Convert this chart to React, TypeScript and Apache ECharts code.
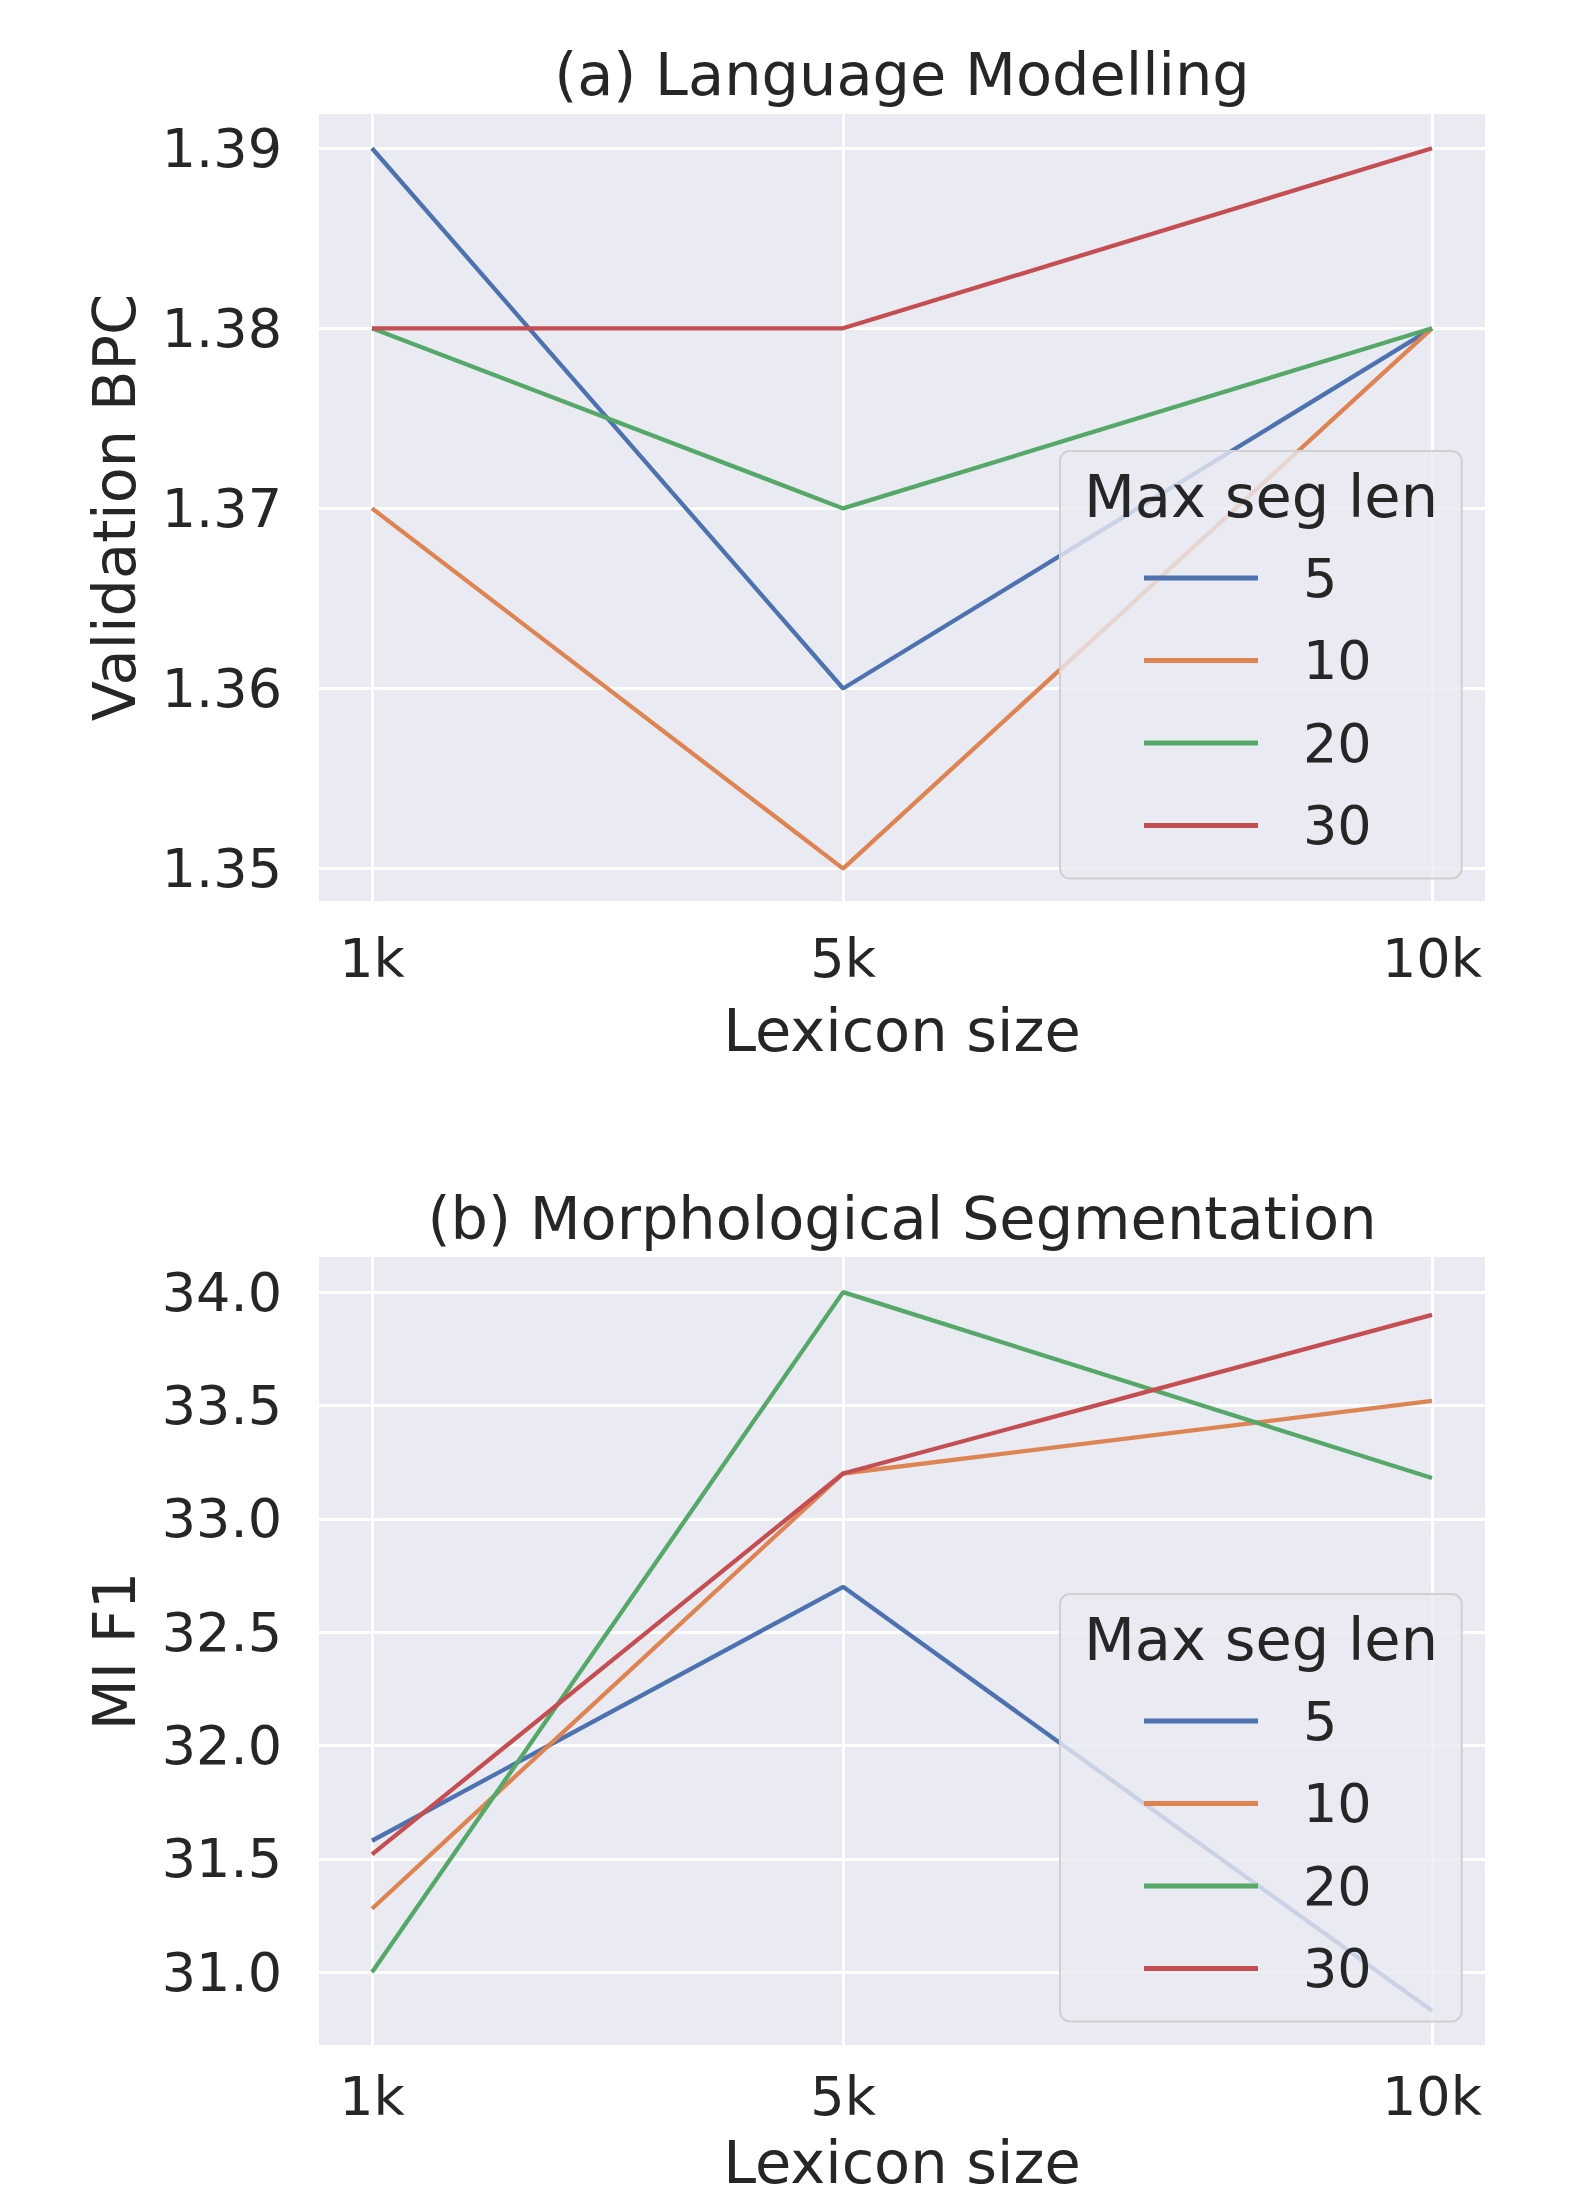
import React, { useEffect, useRef } from "react";
import * as echarts from "echarts";

// ---- data ----
const lexiconSizes = [1000, 5000, 10000];
const xTickLabels = ["1k", "5k", "10k"];
const segLens = ["5", "10", "20", "30"];
const colors = ["#4C72B0", "#DD8452", "#55A868", "#C44E52"];

// (a) Language Modelling - Validation BPC
const bpc5 = [1.39, 1.36, 1.38];
const bpc10 = [1.37, 1.35, 1.38];
const bpc20 = [1.38, 1.37, 1.38];
const bpc30 = [1.38, 1.38, 1.39];
const bpcTicks = [1.35, 1.36, 1.37, 1.38, 1.39];

// (b) Morphological Segmentation - MI F1
const f1_5 = [31.58, 32.7, 30.83];
const f1_10 = [31.28, 33.2, 33.52];
const f1_20 = [31.0, 34.0, 33.18];
const f1_30 = [31.52, 33.2, 33.9];
const f1Ticks = [31.0, 31.5, 32.0, 32.5, 33.0, 33.5, 34.0];

const FONT = "DejaVu Sans";
const TEXT = "#262626";

export default function App() {
  const ref = useRef<HTMLDivElement>(null);
  useEffect(() => {
    if (!ref.current) return;
    const chart = echarts.init(ref.current, undefined, { renderer: "svg" });
    const zip = (ys: number[]) => lexiconSizes.map((x, i) => [x, ys[i]]);
    const panelA = [bpc5, bpc10, bpc20, bpc30];
    const panelB = [f1_5, f1_10, f1_20, f1_30];

    const grids = [
      { left: 319, width: 1166, top: 114, height: 787 },
      { left: 319, width: 1166, top: 1257, height: 788 },
    ].map((g) => ({ ...g, show: true, backgroundColor: "#EAEAF2", borderWidth: 0 }));

    const xAxisBase = (gi: number, nameGap: number, labelMargin: number) => ({
      type: "value",
      gridIndex: gi,
      min: 550,
      max: 10450,
      name: "Lexicon size",
      nameLocation: "middle",
      nameGap,
      nameTextStyle: { fontFamily: FONT, fontSize: 59, color: TEXT },
      axisLine: { show: false },
      axisTick: { show: false, customValues: lexiconSizes },
      axisLabel: {
        customValues: lexiconSizes,
        formatter: (v: number) => xTickLabels[lexiconSizes.indexOf(v)] ?? "",
        fontFamily: FONT,
        fontSize: 54,
        color: TEXT,
        margin: labelMargin,
      },
      splitLine: { show: true, lineStyle: { color: "#ffffff", width: 3 } },
    });

    const yAxisBase = (gi: number, name: string, min: number, max: number, ticks: number[], dec: number) => ({
      type: "value",
      gridIndex: gi,
      min,
      max,
      name,
      nameLocation: "middle",
      nameGap: 175,
      nameTextStyle: { fontFamily: FONT, fontSize: 59, color: TEXT },
      axisLine: { show: false },
      axisTick: { show: false, customValues: ticks },
      axisLabel: {
        customValues: ticks,
        formatter: (v: number) => v.toFixed(dec),
        fontFamily: FONT,
        fontSize: 54,
        color: TEXT,
        margin: 37,
      },
      splitLine: { show: true, lineStyle: { color: "#ffffff", width: 3 } },
    });

    const makeSeries = (sets: number[][], gi: number) =>
      sets.map((ys, i) => ({
        type: "line",
        name: segLens[i],
        xAxisIndex: gi,
        yAxisIndex: gi,
        data: zip(ys),
        showSymbol: false,
        symbol: "none",
        color: colors[i],
        lineStyle: { color: colors[i], width: 4.3 },
        z: 3,
      }));

    const legendBase = (top: number) => ({
      orient: "vertical",
      left: 1060,
      top,
      data: segLens,
      icon: "rect",
      itemWidth: 114,
      itemHeight: 5,
      itemGap: 28.5,
      padding: [100, 90, 26, 84],
      backgroundColor: "rgba(234,234,242,0.8)",
      borderColor: "#d0d0d0",
      borderWidth: 2,
      borderRadius: 10,
      selectedMode: false,
      textStyle: { fontFamily: FONT, fontSize: 54, color: TEXT, padding: [0, 0, 0, 40] },
      z: 10,
    });

    const titleStyle = { fontFamily: FONT, fontSize: 59, fontWeight: "normal", color: TEXT };

    chart.setOption({
      animation: false,
      backgroundColor: "#ffffff",
      title: [
        { text: "(a) Language Modelling", left: 902, top: 45, textAlign: "center", textStyle: titleStyle, padding: 0 },
        { text: "(b) Morphological Segmentation", left: 902, top: 1189, textAlign: "center", textStyle: titleStyle, padding: 0 },
        { text: "Max seg len", left: 1261, top: 467, textAlign: "center", textStyle: titleStyle, padding: 0, z: 12 },
        { text: "Max seg len", left: 1261, top: 1610, textAlign: "center", textStyle: titleStyle, padding: 0, z: 12 },
      ],
      grid: grids,
      xAxis: [xAxisBase(0, 100, 30), xAxisBase(1, 88, 24)],
      yAxis: [
        yAxisBase(0, "Validation BPC", 1.3482, 1.3919, bpcTicks, 2),
        yAxisBase(1, "MI F1", 30.679, 34.155, f1Ticks, 1),
      ],
      legend: [legendBase(451), legendBase(1594)],
      series: [...makeSeries(panelA, 0), ...makeSeries(panelB, 1)],
    });
    return () => chart.dispose();
  }, []);
  return <div ref={ref} style={{ position: "absolute", left: 0, top: 0, width: 1569, height: 2197 }} />;
}
